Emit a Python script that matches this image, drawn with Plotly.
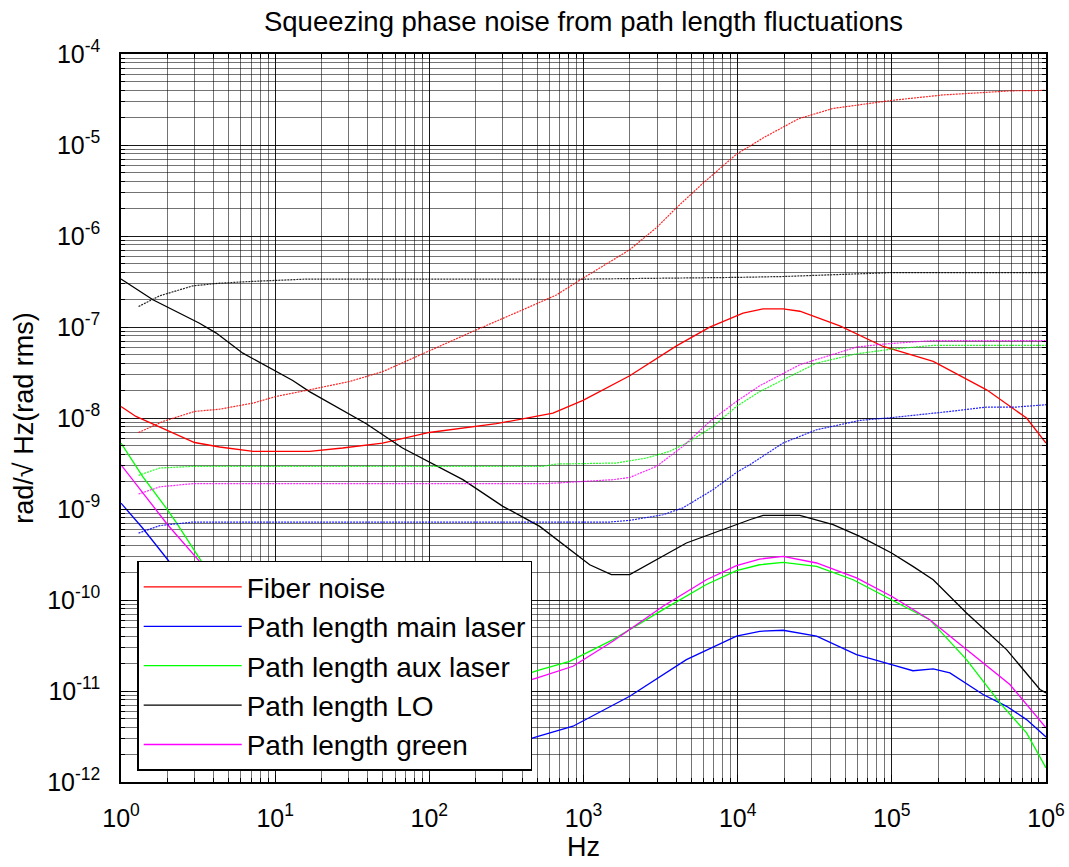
import plotly.graph_objects as go

# ---------------- data ----------------
fiber_f = [1, 1.25, 3.0, 4.36, 7.2, 16.7, 27.4, 49.7, 100, 272, 634, 993, 1995, 4009,
           6590, 10840, 14600, 19700, 25300, 46000, 87900, 185500, 412000, 748000, 1e6]
fiber_v = [1.34e-8, 1.04e-8, 5.38e-9, 4.80e-9, 4.30e-9, 4.30e-9, 4.68e-9, 5.31e-9, 6.93e-9,
           8.65e-9, 1.13e-8, 1.56e-8, 2.91e-8, 6.21e-8, 9.98e-8, 1.42e-7, 1.58e-7, 1.58e-7,
           1.49e-7, 1.03e-7, 6.11e-8, 4.18e-8, 2.04e-8, 9.98e-9, 5.31e-9]

fiber_rms_f = [1.3, 1.87, 3.0, 4.36, 7.2, 10.2, 16.7, 30.4, 50, 117, 202, 405, 667, 993, 1480,
               1990, 3000, 3880, 5870, 9800, 14800, 24800, 41400, 99400, 215000, 601000, 1e6]
fiber_rms_v = [6.93e-9, 9.16e-9, 1.18e-8, 1.25e-8, 1.46e-8, 1.73e-8, 2.04e-8, 2.52e-8, 3.24e-8,
               6.21e-8, 9.31e-8, 1.55e-7, 2.25e-7, 3.44e-7, 5.24e-7, 7.05e-7, 1.25e-6, 1.94e-6,
               3.72e-6, 7.9e-6, 1.21e-5, 1.94e-5, 2.52e-5, 3.09e-5, 3.55e-5, 3.94e-5, 3.98e-5]

main_f = [1, 1.38, 2.01, 3, 5, 10, 20, 50, 100, 200, 300, 507, 855, 1995, 4650, 9820, 13900,
          19720, 32500, 59000, 99600, 137000, 185500, 238000, 391000, 555000, 748000, 1e6]
main_v = [1.16e-9, 6.18e-10, 2.77e-10, 1.12e-10, 3.2e-11, 7.9e-12, 3.2e-12, 2.0e-12, 1.8e-12,
          2.0e-12, 2.4e-12, 3.18e-12, 4.10e-12, 8.75e-12, 2.21e-11, 4.00e-11, 4.53e-11, 4.65e-11,
          4.00e-11, 2.51e-11, 1.95e-11, 1.67e-11, 1.75e-11, 1.58e-11, 9.14e-12, 6.79e-12,
          4.85e-12, 3.13e-12]

main_rms_f = [1.3, 1.78, 2.92, 1480, 1995, 3280, 4420, 6920, 9820, 11970, 19720, 32500, 62000,
              99600, 238000, 412000, 644000, 1e6]
main_rms_v = [5.44e-10, 6.56e-10, 7.19e-10, 7.19e-10, 7.50e-10, 8.65e-10, 1.03e-9, 1.63e-9,
              2.52e-9, 3.06e-9, 5.31e-9, 7.43e-9, 9.40e-9, 1.01e-8, 1.18e-8, 1.32e-8, 1.32e-8,
              1.40e-8]

aux_f = [1, 1.38, 1.96, 2.28, 3.3, 5, 10, 20, 50, 100, 200, 300, 507, 813, 1554, 3280, 6270,
         9820, 13900, 19720, 32500, 56100, 99600, 176000, 305000, 502000, 748000, 1e6]
aux_v = [5.31e-9, 2.28e-9, 1.03e-9, 7.13e-10, 2.71e-10, 1.0e-10, 2.8e-11, 1.26e-11, 7.9e-12,
         7.9e-12, 1.0e-11, 1.26e-11, 1.69e-11, 2.12e-11, 3.67e-11, 7.83e-11, 1.48e-10, 2.10e-10,
         2.44e-10, 2.59e-10, 2.34e-10, 1.67e-10, 1.01e-10, 6.08e-11, 2.21e-11, 7.40e-12,
         3.47e-12, 1.43e-12]

aux_rms_f = [1.3, 1.78, 2.92, 540, 667, 1635, 2560, 3620, 4890, 6920, 9820, 13900, 19720, 32500,
             59000, 99600, 185500, 1e6]
aux_rms_v = [2.34e-9, 2.82e-9, 2.94e-9, 2.94e-9, 3.12e-9, 3.20e-9, 3.63e-9, 4.30e-9, 5.52e-9,
             8.07e-9, 1.34e-8, 1.95e-8, 2.63e-8, 4.01e-8, 5.07e-8, 5.71e-8, 6.27e-8, 6.27e-8]

lo_f = [1, 1.61, 3.23, 4.15, 6.17, 10.2, 13, 16.7, 39, 67, 117, 165, 300, 520, 1097, 1517, 1995,
        4650, 11970, 14620, 25300, 41600, 62000, 99600, 137000, 185500, 305000, 555000, 913000, 1e6]
lo_v = [3.36e-7, 1.99e-7, 1.10e-7, 8.57e-8, 5.16e-8, 3.24e-8, 2.58e-8, 1.95e-8, 8.65e-9, 4.68e-9,
        2.82e-9, 2.10e-9, 1.07e-9, 6.44e-10, 2.44e-10, 1.90e-10, 1.90e-10, 4.23e-10, 7.62e-10,
        8.51e-10, 8.51e-10, 6.73e-10, 5.00e-10, 3.29e-10, 2.34e-10, 1.67e-10, 7.21e-11,
        2.85e-11, 1.04e-11, 9.55e-12]

lo_rms_f = [1.3, 1.78, 2.92, 4.36, 6.8, 15.9, 1000, 4000, 10000, 20000, 40000, 60000, 100000, 1e6]
lo_rms_v = [1.68e-7, 2.20e-7, 2.83e-7, 3.03e-7, 3.16e-7, 3.36e-7, 3.36e-7, 3.43e-7, 3.51e-7,
            3.59e-7, 3.72e-7, 3.85e-7, 3.96e-7, 3.96e-7]

green_f = [1, 1.38, 2.0, 3.2, 5, 10, 20, 50, 100, 200, 300, 507, 855, 1550, 3280, 6270, 9820,
           13900, 19720, 32500, 59000, 99600, 176000, 305000, 583000, 1e6]
green_v = [3.06e-9, 1.50e-9, 6.76e-10, 2.71e-10, 8.9e-11, 2.5e-11, 1.12e-11, 7.1e-12, 7.1e-12,
           8.9e-12, 1.07e-11, 1.40e-11, 1.87e-11, 3.52e-11, 8.53e-11, 1.67e-10, 2.38e-10,
           2.82e-10, 3.02e-10, 2.55e-10, 1.75e-10, 1.10e-10, 6.08e-11, 2.85e-11, 1.18e-11, 3.94e-12]

green_rms_f = [1.3, 1.78, 2.92, 573, 1550, 1995, 2970, 4420, 6590, 9820, 13900, 25300, 59000,
               87900, 185500, 1e6]
green_rms_v = [1.46e-9, 1.75e-9, 1.90e-9, 1.90e-9, 2.10e-9, 2.22e-9, 2.94e-9, 4.88e-9, 9.16e-9,
               1.52e-8, 2.26e-8, 3.85e-8, 6.01e-8, 6.49e-8, 7.10e-8, 7.10e-8]

series_names = ["Fiber noise", "Path length main laser", "Path length aux laser",
                "Path length LO", "Path length green"]
series_colors = ["#ff0000", "#0000ff", "#00ff00", "#000000", "#ff00ff"]

x_tick_vals = [1, 10, 100, 1000, 10000, 100000, 1000000]
x_tick_text = ["10<sup>0</sup>", "10<sup>1</sup>", "10<sup>2</sup>", "10<sup>3</sup>",
               "10<sup>4</sup>", "10<sup>5</sup>", "10<sup>6</sup>"]
y_tick_vals = [1e-12, 1e-11, 1e-10, 1e-9, 1e-8, 1e-7, 1e-6, 1e-5, 1e-4]
y_tick_text = ["10<sup>-12</sup>", "10<sup>-11</sup>", "10<sup>-10</sup>", "10<sup>-9</sup>",
               "10<sup>-8</sup>", "10<sup>-7</sup>", "10<sup>-6</sup>", "10<sup>-5</sup>",
               "10<sup>-4</sup>"]

# ---------------- figure ----------------
FONT = "Liberation Sans, Arial, sans-serif"
FIG_W, FIG_H = 1069, 867

fig = go.Figure()

asd = [(fiber_f, fiber_v), (main_f, main_v), (aux_f, aux_v), (lo_f, lo_v), (green_f, green_v)]
rms = [(fiber_rms_f, fiber_rms_v), (main_rms_f, main_rms_v), (aux_rms_f, aux_rms_v),
       (lo_rms_f, lo_rms_v), (green_rms_f, green_rms_v)]

for (f, v), name, col in zip(asd, series_names, series_colors):
    fig.add_trace(go.Scatter(x=f, y=v, mode="lines", name=name,
                             line=dict(color=col, width=1.3), showlegend=True))
for (f, v), name, col in zip(rms, series_names, series_colors):
    fig.add_trace(go.Scatter(x=f, y=v, mode="lines", name=name + " (rms)",
                             line=dict(color=col, width=1.2, dash="2px,1px"), opacity=0.85,
                             showlegend=False))

x_minor = [m * 10 ** d for d in range(0, 6) for m in range(2, 10)]
y_minor = [m * 10.0 ** d for d in range(-12, -4) for m in range(2, 10)]

axis_common = dict(
    type="log", showline=True, linecolor="black", linewidth=1.5, mirror="allticks",
    ticks="inside", ticklen=7, tickcolor="black", tickwidth=1,
    showgrid=True, gridcolor="rgba(0,0,0,0.9)", gridwidth=1, zeroline=False,
    tickfont=dict(family=FONT, size=25, color="black"), tickmode="array",
)
minor_common = dict(tickmode="array", ticks="inside", ticklen=4, tickcolor="black",
                    showgrid=True, gridcolor="rgba(0,0,0,0.55)", gridwidth=1)

fig.update_xaxes(
    **axis_common, range=[0, 6], tickvals=x_tick_vals, ticktext=x_tick_text,
    ticklabelstandoff=13,
    minor=dict(**minor_common, tickvals=x_minor),
    title=dict(text="Hz", font=dict(family=FONT, size=27, color="black"), standoff=6),
)
fig.update_yaxes(
    **axis_common, range=[-12, -4], tickvals=y_tick_vals, ticktext=y_tick_text,
    ticklabelstandoff=14,
    minor=dict(**minor_common, tickvals=y_minor),
    title=dict(text="rad/√ Hz(rad rms)", font=dict(family=FONT, size=27, color="black"),
               standoff=6),
)

fig.update_layout(
    width=FIG_W, height=FIG_H,
    margin=dict(l=121, r=23, t=54, b=85, autoexpand=False),
    paper_bgcolor="white", plot_bgcolor="white",
    title=dict(text="Squeezing phase noise from path length fluctuations",
               font=dict(family=FONT, size=27.5, color="black"),
               x=0.5, xref="paper", xanchor="center", y=1 - 21 / FIG_H, yref="container",
               yanchor="middle"),
    legend=dict(x=0.0175, y=0.304, xanchor="left", yanchor="top",
                bgcolor="white", bordercolor="black", borderwidth=1.5,
                font=dict(family=FONT, size=28, color="black"),
                itemwidth=98, tracegroupgap=0),
    showlegend=True,
)

# the page's default 8 px body margin would shift the 1069x867 figure; remove it
fig.write_html("out.html", config={"displayModeBar": False},
               post_script="document.body.style.margin='0px';")
